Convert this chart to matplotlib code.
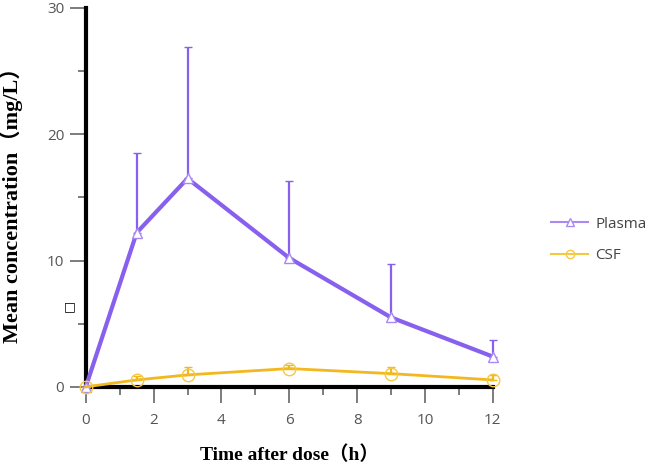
import numpy as np
import matplotlib
matplotlib.use("Agg")
import matplotlib.pyplot as plt
from matplotlib.ticker import MultipleLocator
from matplotlib.lines import Line2D

# data
time_h = [0, 1.5, 3, 6, 9, 12]
plasma_mean = [0, 12.2, 16.5, 10.2, 5.5, 2.4]
plasma_sd = [0, 6.3, 10.4, 6.1, 4.2, 1.3]
csf_mean = [0, 0.55, 0.95, 1.45, 1.05, 0.55]
csf_sd = [0, 0.35, 0.65, 0.3, 0.55, 0.4]

purple = '#8760ee'
purple_light = '#a98af2'
gold = '#f2b81e'
gold_light = '#f5c842'
serif_cjk = ['Liberation Serif', 'Noto Sans CJK SC']

fig = plt.figure(figsize=(6.5, 4.65), dpi=100)
ax = fig.add_axes([0.132, 0.168, 0.626, 0.815])

zeros = np.zeros(len(time_h))
ax.errorbar(time_h, plasma_mean, yerr=[zeros, plasma_sd], color=purple,
            lw=3, elinewidth=1.6, capsize=3, capthick=1.6,
            marker='^', ms=7, mfc='white', mec=purple_light, mew=1,
            clip_on=False, zorder=3)
ax.errorbar(time_h, csf_mean, yerr=[zeros, csf_sd], color=gold,
            lw=2, elinewidth=1.6, capsize=3, capthick=1.6,
            marker='o', ms=9, mfc='none', mec=gold_light, mew=1,
            clip_on=False, zorder=3)

ax.set_xlim(0, 12)
ax.set_ylim(0, 30)
ax.xaxis.set_major_locator(MultipleLocator(2))
ax.xaxis.set_minor_locator(MultipleLocator(1))
ax.yaxis.set_major_locator(MultipleLocator(10))
ax.yaxis.set_minor_locator(MultipleLocator(5))

for s in ['top', 'right']:
    ax.spines[s].set_visible(False)
for s in ['left', 'bottom']:
    ax.spines[s].set_linewidth(3)
    ax.spines[s].set_color('black')

ax.tick_params(which='major', direction='out', length=11.5, width=1.2,
               color='#666666', labelcolor='#555555', labelsize=11)
ax.tick_params(which='minor', direction='out', length=6, width=1.2,
               color='#666666')
ax.tick_params(axis='x', which='major', pad=7)
ax.tick_params(axis='y', which='major', pad=4)
for lbl in ax.get_xticklabels() + ax.get_yticklabels():
    lbl.set_family('Open Sans')

ax.set_xlabel('Time after dose（h）', family=serif_cjk, fontweight='bold',
              fontsize=14)
ax.set_ylabel('Mean concentration（mg/L）', family=serif_cjk,
              fontweight='bold', fontsize=16)
ax.xaxis.set_label_coords(0.5, -0.155)
ax.yaxis.set_label_coords(-0.155, 0.495)

handles = [
    Line2D([], [], color=purple_light, lw=1.5, marker='^', ms=6,
           mfc='white', mec=purple_light),
    Line2D([], [], color=gold_light, lw=1.5, marker='o', ms=6,
           mfc='none', mec=gold_light),
]
leg = ax.legend(handles, ['Plasma', 'CSF'], loc='center left',
                bbox_to_anchor=(0.848, 0.484), bbox_transform=fig.transFigure,
                frameon=False, labelspacing=1.1, handlelength=2.4,
                handletextpad=0.5, borderpad=0, borderaxespad=0,
                prop={'family': 'Open Sans', 'size': 11})
for t in leg.get_texts():
    t.set_color('#444444')

fig.text(0.108, 0.34, '□', fontsize=9, family=['DejaVu Sans'],
         ha='center', va='center')

fig.savefig('out.png', dpi=100)
